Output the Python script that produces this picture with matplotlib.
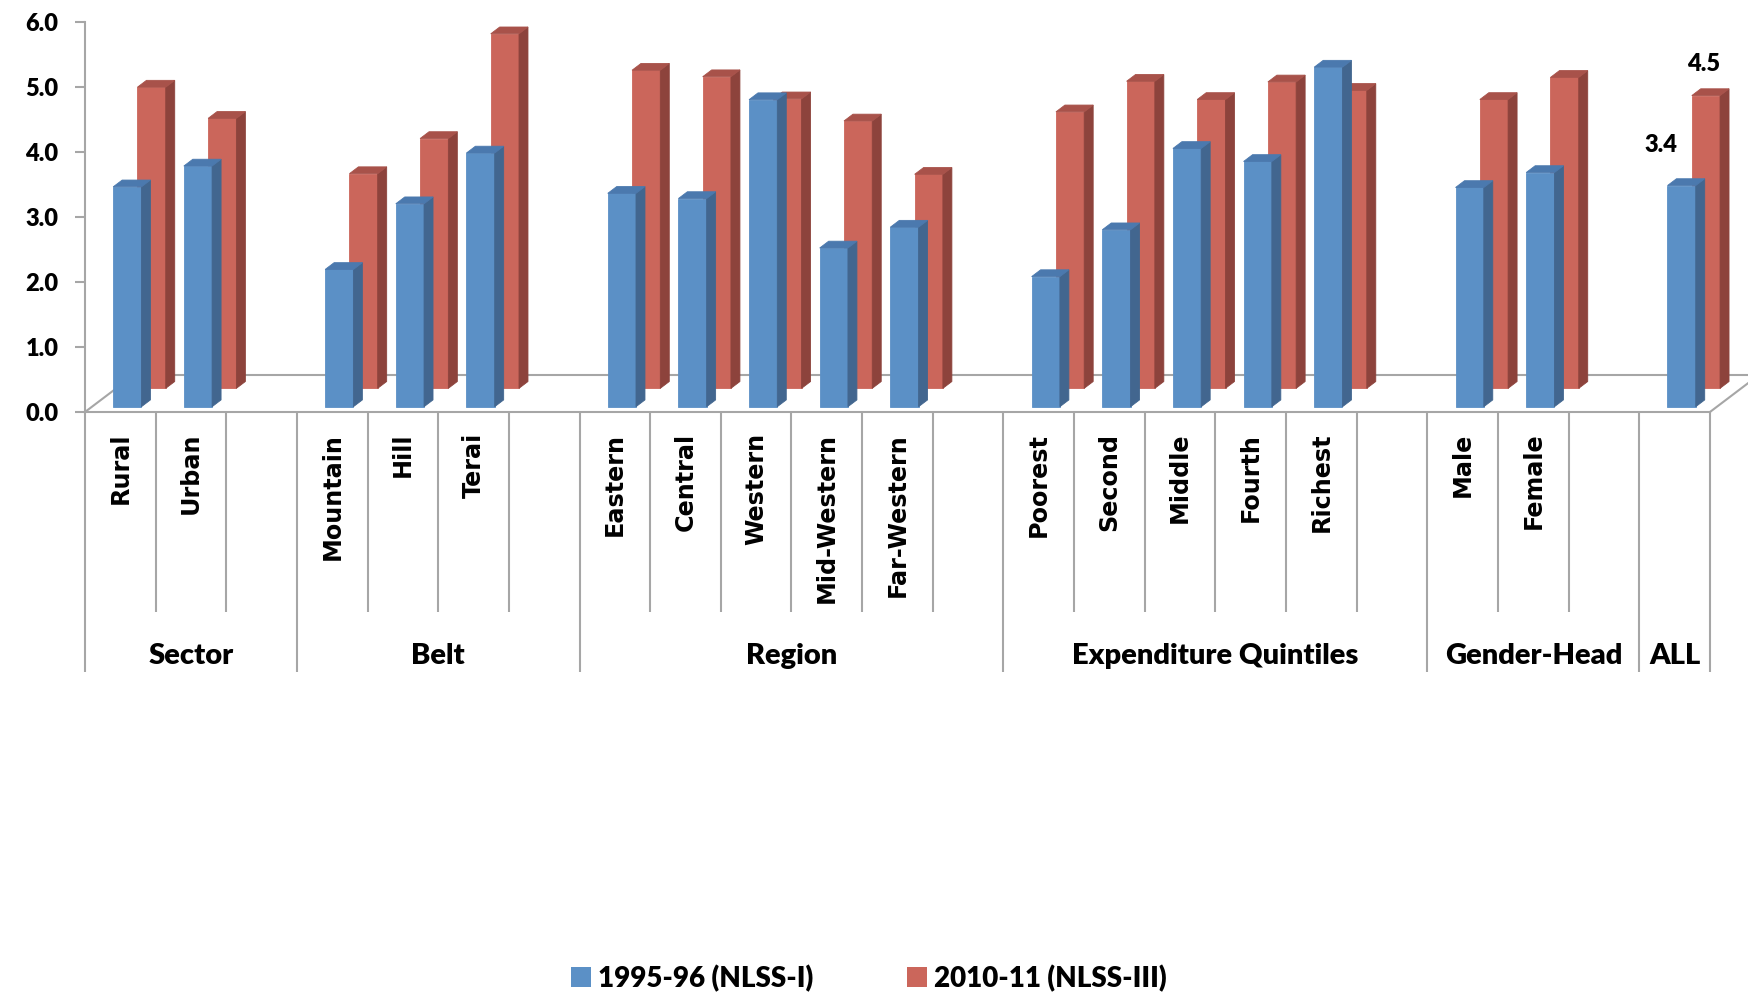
import matplotlib.pyplot as plt
from matplotlib.patches import Polygon, Patch
import numpy as np

# groups and the categories inside them (last group is the national total)
group_names = ["Sector", "Belt", "Region", "Expenditure Quintiles", "Gender-Head", "ALL"]
group_sizes = [2, 3, 5, 5, 2, 1]
categories = ["Rural", "Urban",
              "Mountain", "Hill", "Terai",
              "Eastern", "Central", "Western", "Mid-Western", "Far-Western",
              "Poorest", "Second", "Middle", "Fourth", "Richest",
              "Male", "Female",
              ""]
nlss1 = [3.38, 3.70,
         2.11, 3.12, 3.90,
         3.28, 3.20, 4.72, 2.44, 2.76,
         2.00, 2.72, 3.97, 3.77, 5.22,
         3.37, 3.60,
         3.4]
nlss3 = [4.63, 4.15,
         3.30, 3.84, 5.45,
         4.89, 4.79, 4.45, 4.11, 3.29,
         4.25, 4.72, 4.44, 4.71, 4.58,
         4.44, 4.78,
         4.5]
series_names = ["1995-96 (NLSS-I)", "2010-11 (NLSS-III)"]
yticks = [0, 1, 2, 3, 4, 5, 6]

# front / side / top shades for the fake 3d columns
blue = ("#5B90C6", "#42668F", "#4B79AE")
red = ("#CB665B", "#8D433C", "#A8524A")
grey = "#A6A6A6"

K = 0.822          # vertical shift per unit of depth (oblique view)
FLOOR = 0.692      # depth of the floor
BAR_W = 0.4
BAR_T = 0.127      # column thickness in depth
HEAVY = "heavy"

plt.rcParams["font.family"] = ["Lato", "DejaVu Sans"]

fig = plt.figure(figsize=(17.48, 9.92), dpi=100)
fig.patch.set_facecolor("white")
ax = fig.add_axes([85 / 1748, (992 - 412) / 992, 1663 / 1748, 390.3 / 992])

# slot positions: one empty slot after each group except the last
slots = []
bounds = [0]
pos = 0
for n in group_sizes:
    slots += [pos + k for k in range(n)]
    span = n + 1 if len(bounds) < len(group_sizes) else n
    pos += span
    bounds.append(pos)
n_slots = pos
xc = np.array(slots) + 0.5


def column(x, v, d, cols, z):
    y0 = d * K
    ax.bar(x + d, v, width=BAR_W, bottom=y0, color=cols[0],
           edgecolor=cols[0], linewidth=0.6, zorder=z, clip_on=False)
    xl = x + d - BAR_W / 2
    xr = x + d + BAR_W / 2
    yt = y0 + v
    dx, dy = BAR_T, BAR_T * K
    side = Polygon([(xr, y0), (xr, yt), (xr + dx, yt + dy), (xr + dx, y0 + dy)],
                   closed=True, facecolor=cols[1], edgecolor=cols[1],
                   linewidth=0.6, zorder=z, clip_on=False)
    top = Polygon([(xl, yt), (xr, yt), (xr + dx, yt + dy), (xl + dx, yt + dy)],
                  closed=True, facecolor=cols[2], edgecolor=cols[2],
                  linewidth=0.6, zorder=z, clip_on=False)
    ax.add_patch(side)
    ax.add_patch(top)


# floor outline
fy = FLOOR * K
ax.plot([0, FLOOR, n_slots + FLOOR, n_slots], [0, fy, fy, 0],
        color=grey, lw=1.5, zorder=1, clip_on=False)

d_blue = 0.099
d_red = 0.443
for x, v in zip(xc, nlss3):
    column(x, v, d_red, red, 2)
for x, v in zip(xc, nlss1):
    column(x, v, d_blue, blue, 3)

# value labels on the national total
ax.annotate(f"{nlss1[-1]:.1f}", xy=(xc[-1] + d_blue, nlss1[-1] + d_blue * K),
            xytext=(-14.5, 29.5), textcoords="offset points", ha="center",
            va="center", fontsize=17, fontweight=HEAVY, annotation_clip=False)
ax.annotate(f"{nlss3[-1]:.1f}", xy=(xc[-1] + d_red, nlss3[-1] + d_red * K),
            xytext=(-1.5, 22.5), textcoords="offset points", ha="center",
            va="center", fontsize=17, fontweight=HEAVY, annotation_clip=False)

ax.set_xlim(0, 1663 / 70.65)
ax.set_ylim(0, 6)
for s in ["top", "right"]:
    ax.spines[s].set_visible(False)
ax.spines["left"].set_color(grey)
ax.spines["left"].set_linewidth(1.5)
ax.spines["bottom"].set_color(grey)
ax.spines["bottom"].set_linewidth(1.5)
ax.spines["bottom"].set_bounds(0, n_slots)

ax.set_yticks(yticks)
ax.set_yticklabels([f"{t:.1f}" for t in yticks], fontweight=HEAVY)
ax.tick_params(axis="y", length=7, width=1.5, color=grey, pad=12,
               labelsize=17)

# category separators: long ones between groups, short ones inside
major = bounds
minor = [b for b in range(n_slots + 1) if b not in bounds]
ax.set_xticks(major)
ax.set_xticks(minor, minor=True)
ax.set_xticklabels([])
ax.tick_params(axis="x", which="major", length=187, width=1.5, color=grey)
ax.tick_params(axis="x", which="minor", length=144, width=1.5, color=grey)

for x, name in zip(xc, categories):
    ax.text(x, -0.32, name, rotation=90, ha="center", va="top",
            fontsize=17.2, fontweight="bold", family="DejaVu Sans", clip_on=False)

for i, name in enumerate(group_names):
    ax.text((bounds[i] + bounds[i + 1]) / 2, -3.75, name, ha="center",
            va="center", fontsize=21, fontweight=HEAVY, clip_on=False)

handles = [Patch(facecolor=blue[0]), Patch(facecolor=red[0])]
fig.legend(handles, series_names, loc="center", bbox_to_anchor=(0.497, 0.014),
           ncol=2, frameon=False, prop={"size": 20, "weight": HEAVY},
           handlelength=0.7, handleheight=0.7, handletextpad=0.25,
           columnspacing=3.4)

fig.savefig("out.png", dpi=100, facecolor="white")
